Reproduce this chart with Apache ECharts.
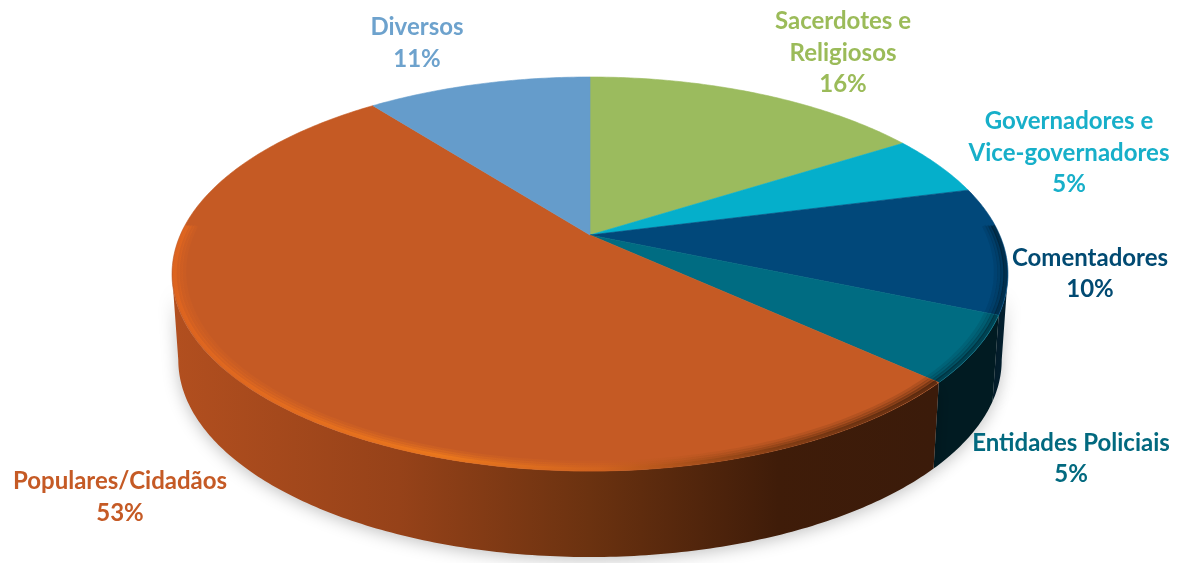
<!DOCTYPE html>
<html><head><meta charset="utf-8">
<style>html,body{margin:0;padding:0;background:#fff}#c{width:1184px;height:563px}</style>
<script src="https://cdn.jsdelivr.net/npm/echarts@6/dist/echarts.min.js"></script>
</head><body><div id="c"></div>
<script>
// Data: unrounded shares estimated from the slice edges; the printed labels are their rounded values
const categories = ['Sacerdotes e\nReligiosos','Governadores e\nVice-governadores','Comentadores','Entidades Policiais','Populares/Cidadãos','Diversos'];
const shares = [16,5,10.4,5.4,52.7,10.5];
// Styles
const topColors = ['#9bbb5e','#05afcb','#01487a','#006c82','#c55a24','#659ccb'];
const labelColors = ['#9bbb59','#17afc9','#014a72','#02697f','#c55a25','#6da2cd'];
const wallColors = ['#4d5e2e','#04586a','#04202f','#011b22','#3c1c0a','#324e66'];
const labelCentres = [[843,53],[1069,153],[1090,274],[1071,459],[120,497.5],[417,43.5]];
// Projected disc layout: a circle seen in perspective, then dropped for the lower face
const CX=590, CY=235, A=409.7, B=189.3, K=0.198, DEPTH=86, BOTTOM_SCALE=0.985;
const thetaR=Math.acos(-K), thetaL=2*Math.PI-thetaR;
function proj(t,r){const w=1+K*r*Math.cos(t);return [CX+A*r*Math.sin(t)/w, CY-B*r*Math.cos(t)/w];}
function low(t){const p=proj(t,1);return [CX+(p[0]-CX)*BOTTOM_SCALE,p[1]+DEPTH];}
function arc(a,b,fn){const out=[];const n=Math.max(2,Math.ceil(Math.abs(b-a)/0.012));for(let i=0;i<=n;i++)out.push(fn(a+(b-a)*i/n));return out;}
const total=shares.reduce((s,v)=>s+v,0);
let cum=0;
const rows=shares.map((v,i)=>{const s=cum;cum+=v;return [i,v,s/total*2*Math.PI,cum/total*2*Math.PI];});
const G=echarts.graphic.LinearGradient;
const popWall=new G(172,0,930,0,[{offset:0,color:'#b24f1f'},{offset:.3,color:'#964219'},{offset:.55,color:'#6b3210'},{offset:.8,color:'#3f1c09'},{offset:1,color:'#3b1b0a'}],true);
const popRim=new G(172,0,950,0,[{offset:0,color:'#e0651f'},{offset:.35,color:'#ee7a1c'},{offset:.55,color:'#d2641f'},{offset:.78,color:'#7c3a12'},{offset:1,color:'#4a220c'}],true);
const POP=categories.indexOf('Populares/Cidadãos');
function wallItem(p,api){
  const i=p.dataIndex, a=Math.max(api.value(2),thetaR), b=Math.min(api.value(3),thetaL);
  if(a>=b) return null;
  const pts=arc(a,b,t=>proj(t,1)).concat(arc(b,a,low));
  return {type:'polygon',shape:{points:pts},style:{fill:i===POP?popWall:wallColors[i],shadowBlur:16,shadowColor:'rgba(0,0,0,.24)',shadowOffsetY:3}};
}
const rimPasses=[[.972,.18],[.98,.3],[.987,.5],[.994,.85]];
function topItem(p,api){
  const i=p.dataIndex, a=api.value(2), b=api.value(3);
  const children=[{type:'polygon',shape:{points:[[CX,CY]].concat(arc(a,b,t=>proj(t,1)))},style:{fill:topColors[i],stroke:topColors[i],lineWidth:.6}}];
  const ra=Math.max(a,thetaR-0.25), rb=Math.min(b,thetaL+0.25);
  if(ra<rb){
    rimPasses.forEach(q=>children.push({type:'polyline',shape:{points:arc(ra,rb,t=>proj(t,q[0]))},style:{fill:null,stroke:i===POP?popRim:'#00141c',lineWidth:4,opacity:q[1]*(i===POP?1:.55)}}));
  }
  children.push({type:'text',z2:10,style:{text:categories[i]+'\n'+Math.round(api.value(1))+'%',x:labelCentres[i][0],y:labelCentres[i][1],align:'center',verticalAlign:'middle',fill:labelColors[i],font:'bold 24px Lato',lineHeight:31.5}});
  return {type:'group',children};
}
const chart=echarts.init(document.getElementById('c'),null,{renderer:'canvas'});
chart.setOption({animation:false,backgroundColor:'#fff',series:[
 {type:'custom',coordinateSystem:'none',silent:true,z:1,data:rows,renderItem:wallItem},
 {type:'custom',coordinateSystem:'none',silent:true,z:2,data:rows,renderItem:topItem}
]});
</script></body></html>
